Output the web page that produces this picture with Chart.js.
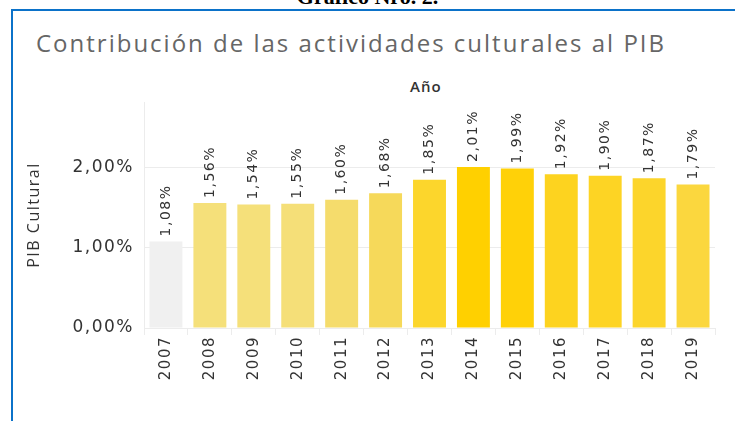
<!DOCTYPE html>
<html>
<head>
<meta charset="utf-8">
<script src="https://cdn.jsdelivr.net/npm/chart.js@4.4.1/dist/chart.umd.min.js"></script>
<style>
  html, body { margin: 0; padding: 0; background: #fff; }
  body { width: 735px; height: 421px; position: relative; overflow: hidden; }
  .doc-title { position: absolute; left: 0; width: 735px; top: -16px; text-align: center;
    font: bold 22px "Liberation Serif", serif; color: #000; }
  .frame { position: absolute; left: 11px; top: 9px; width: 740px; height: 420px;
    border-left: 2px solid #0b72c9; border-top: 2px solid #0b72c9; }
  .title { position: absolute; left: 36px; top: 26px; font: 24px "Open Sans", sans-serif; color: #666;
    letter-spacing: 2px; white-space: nowrap; }
  .header { position: absolute; left: 410px; top: 76px; font: 600 15px "Open Sans", sans-serif; color: #333;
    letter-spacing: 1px; }
  #wrap { position: absolute; left: 0; top: 0; width: 735px; height: 421px; }
</style>
</head>
<body>
<div class="doc-title">Gráfico Nro. 2.</div>
<div class="frame"></div>
<div class="title">Contribución de las actividades culturales al PIB</div>
<div class="header">Año</div>
<div id="wrap"><canvas id="chart" width="735" height="421"></canvas></div>
<script>
/* ── Data ── */
const years  = ['2007','2008','2009','2010','2011','2012','2013','2014','2015','2016','2017','2018','2019'];
const pibCultural = [1.08, 1.56, 1.54, 1.55, 1.60, 1.68, 1.85, 2.01, 1.99, 1.92, 1.90, 1.87, 1.79];
const yTicks = [0, 1, 2];

/* ── Styles ── */
const barColors = ['#f0f0f0','#f5e07a','#f5e07a','#f5df78','#f5dc6c','#f6d95a','#fcd62c',
                   '#ffd000','#ffd108','#fdd31f','#fdd424','#fcd52b','#fbd73e'];
const fmt = v => v.toFixed(2).replace('.', ',') + '%';
const txt = '#333';
const gc = '#ececec';

/* ── Letter spacing for all chart text ── */
const spacing = {
  id: 'spacing',
  beforeDraw(chart) { chart.ctx.letterSpacing = '1.5px'; }
};

/* ── Value labels ── */
const valueLabels = {
  id: 'valueLabels',
  afterDatasetsDraw(chart) {
    const ctx = chart.ctx;
    const meta = chart.getDatasetMeta(0);
    ctx.save();
    ctx.font = '14px "DejaVu Sans", sans-serif';
    ctx.fillStyle = txt;
    ctx.textAlign = 'left';
    ctx.textBaseline = 'middle';
    meta.data.forEach((bar, i) => {
      ctx.save();
      ctx.translate(bar.x, bar.y - 5);
      ctx.rotate(-Math.PI / 2);
      ctx.fillText(fmt(pibCultural[i]), 0, 0);
      ctx.restore();
    });
    ctx.restore();
  }
};

new Chart(document.getElementById('chart'), {
  type: 'bar',
  data: {
    labels: years,
    datasets: [{
      data: pibCultural,
      backgroundColor: barColors,
      borderWidth: 0,
      categoryPercentage: 1,
      barPercentage: 0.75
    }]
  },
  options: {
    responsive: false,
    animation: false,
    layout: { padding: { left: 0, top: 102, right: 20, bottom: 0 } },
    plugins: { legend: { display: false }, tooltip: { enabled: false } },
    scales: {
      x: {
        afterFit: s => { s.height = 93; },
        grid: { offset: true, drawOnChartArea: false, drawTicks: true, tickLength: 7, color: gc },
        border: { color: gc },
        ticks: { color: txt, minRotation: 90, maxRotation: 90, padding: 1,
                 font: { family: '"DejaVu Sans", sans-serif', size: 15 } }
      },
      y: {
        min: 0, max: 2.82,
        afterFit: s => { s.width = 144; },
        afterBuildTicks: s => { s.ticks = yTicks.map(v => ({ value: v })); },
        grid: { color: gc, drawTicks: false },
        border: { color: gc },
        ticks: { color: txt, padding: 10, callback: v => fmt(v),
                 font: { family: '"DejaVu Sans", sans-serif', size: 17 } },
        title: { display: true, text: 'PIB Cultural', color: txt, padding: { top: 25, bottom: 0 },
                 font: { family: '"Open Sans", sans-serif', size: 16 } }
      }
    }
  },
  plugins: [spacing, valueLabels]
});
</script>
</body>
</html>
